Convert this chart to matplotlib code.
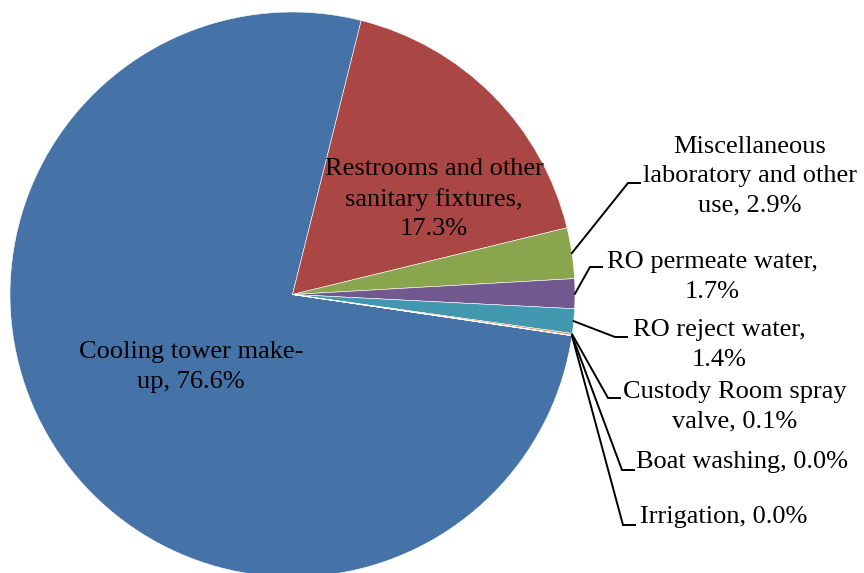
import numpy as np
import matplotlib
matplotlib.use("Agg")
import matplotlib.pyplot as plt

# Datos (orden de la serie, como en la hoja)
categorias = ["Cooling tower make-\nup", "Restrooms and other\nsanitary fixtures,\n", "Miscellaneous\nlaboratory and other\nuse",
              "RO permeate water,\n", "RO reject water,\n", "Custody Room spray\nvalve", "Boat washing", "Irrigation"]
porcentajes = [76.6, 17.3, 2.9, 1.7, 1.4, 0.1, 0.02, 0.01]
colores = ["#4572A7", "#AA4643", "#89A54E", "#71588F", "#4198AF", "#DB843D", "#93A9CF", "#D19392"]

# Geometria en pixeles de la imagen
W, H = 864, 573
CX, CY, R = 292.5, 294.5, 282.5

# centro de cada etiqueta (px) y codo de la linea guia (px), None = dentro del sector
pos_texto = [(191, 367), (434, 199), (750, 176), (712, 277), (719, 345), (735, 407), (742, 462), (724, 517)]
codos = [None, None, (628, 183), (590, 267), (615, 337), (608, 398), (622, 470), (623, 525)]
largo_horiz = 12

def px2d(px, py):
    return (px - CX) / R, (CY - py) / R

fig = plt.figure(figsize=(W / 100, H / 100), dpi=100)
ax = fig.add_axes([0, 0, 1, 1])

wedges, _ = ax.pie(porcentajes, colors=colores, startangle=-8.4, counterclock=False,
                   radius=1, center=(0, 0),
                   wedgeprops=dict(edgecolor="white", linewidth=0.4))

ax.set_xlim(-CX / R, (W - CX) / R)
ax.set_ylim(-(H - CY) / R, CY / R)
ax.set_aspect("equal")
ax.axis("off")

fuente = dict(family="Liberation Serif", fontsize=19, color="black", linespacing=1.42)

for i, w in enumerate(wedges):
    nombre = categorias[i]
    if nombre.endswith("\n"):
        txt = f"{nombre}{porcentajes[i]:.1f}%"
    else:
        txt = f"{nombre}, {porcentajes[i]:.1f}%"
    tx, ty = px2d(*pos_texto[i])
    ax.text(tx, ty, txt, ha="center", va="center", multialignment="center", **fuente)

    if codos[i] is not None:
        ang = np.deg2rad((w.theta1 + w.theta2) / 2)
        x0, y0 = np.cos(ang), np.sin(ang)
        ex, ey = px2d(*codos[i])
        hx, hy = px2d(codos[i][0] + largo_horiz, codos[i][1])
        ax.plot([x0, ex, hx], [y0, ey, hy], color="black", linewidth=1.4,
                solid_joinstyle="miter", clip_on=False)

fig.savefig("out.png", dpi=100)
